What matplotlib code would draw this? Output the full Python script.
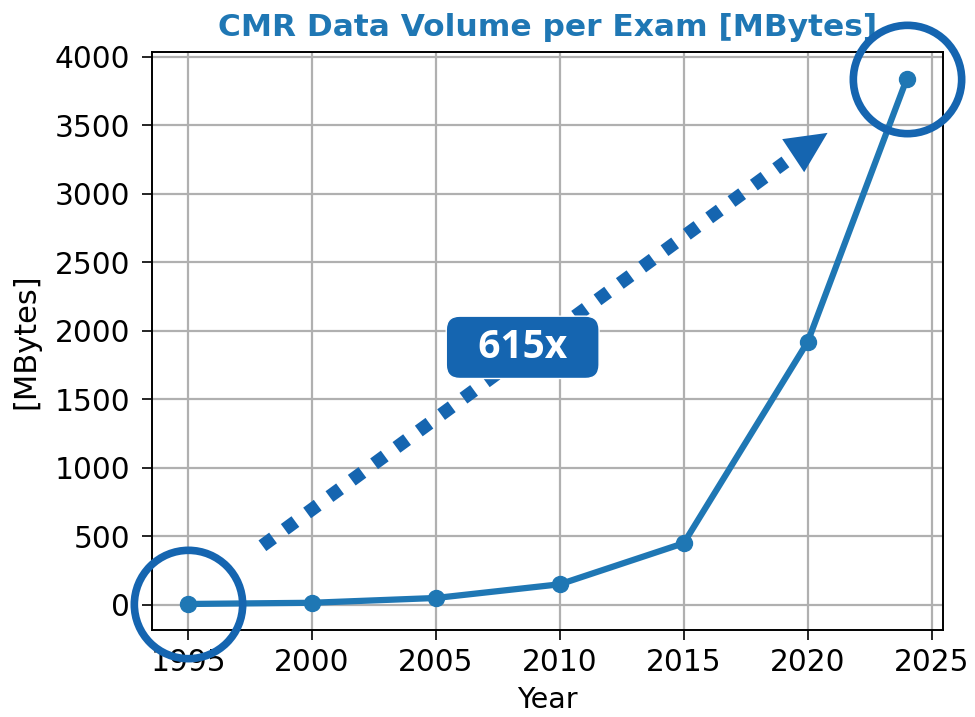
import matplotlib.pyplot as plt

# data
years = [1995, 2000, 2005, 2010, 2015, 2020, 2024]
volume_mb = [6.24, 15, 50, 150, 450, 1920, 3840]

line_color = "#1f77b4"
mark_color = "#1565b0"

fig, ax = plt.subplots(figsize=(9.75, 7.17), dpi=100)
fig.subplots_adjust(left=0.156, right=0.967, top=0.927, bottom=0.121)

ax.plot(years, volume_mb, color=line_color, lw=4.5, marker="o", markersize=11.5)

ax.set_title("CMR Data Volume per Exam [MBytes]", color=line_color,
             fontsize=22.5, fontweight="bold", pad=12)
ax.set_xlabel("Year", fontsize=20.5, labelpad=6)
ax.set_ylabel("[MBytes]", fontsize=22, labelpad=10)
ax.set_xticks([1995, 2000, 2005, 2010, 2015, 2020, 2025])
ax.tick_params(labelsize=21.3, length=7, width=1.2)
ax.tick_params(axis="y", pad=9)
ax.tick_params(axis="x", pad=6)
ax.grid(True, color="#b0b0b0", lw=1.6)
for s in ax.spines.values():
    s.set_linewidth(1.4)

# highlight first and last points
ax.plot([years[0], years[-1]], [volume_mb[0], volume_mb[-1]], ls="none",
        marker="o", markersize=78, mfc="none", mec=mark_color, mew=5.5,
        clip_on=False, zorder=5)

# dotted growth arrow
start = (1998.0, 431)
end = (2019.1, 3232)
ax.plot([start[0], end[0]], [start[1], end[1]], color=mark_color, lw=9.5,
        ls=(0, (1, 1.1)), dash_capstyle="butt", zorder=4)
ax.annotate("", xy=(2020.8, 3444), xytext=(2019.4, 3276),
            arrowprops=dict(arrowstyle="-|>,head_length=0.54,head_width=0.26",
                            mutation_scale=55, color=mark_color, lw=0,
                            shrinkA=0, shrinkB=0), zorder=4)

ratio = volume_mb[-1] / volume_mb[0]
ax.text(2008.5, 1879, f"  {ratio:.0f}x  ", color="white", fontsize=28,
        fontweight="bold", family="Open Sans", ha="center", va="center",
        zorder=6,
        bbox=dict(boxstyle="round,pad=0.3,rounding_size=0.35",
                  fc=mark_color, ec="white", lw=1))

plt.savefig("out.png")
plt.close()
